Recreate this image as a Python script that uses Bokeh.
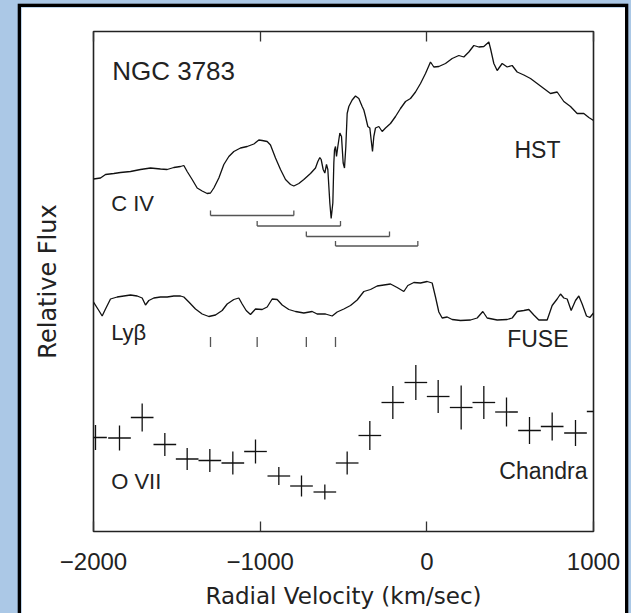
from bokeh.plotting import figure
from bokeh.layouts import column
from bokeh.models import (FixedTicker, LinearAxis, Range1d, Label, CustomJSTickFormatter)
from bokeh.embed import file_html
from bokeh.resources import INLINE

# ---------------- data ----------------
hst_v = [-2000, -1958, -1928, -1878, -1838, -1778, -1718, -1658, -1598, -1558, -1518, -1478,
         -1458, -1438, -1408, -1378, -1348, -1318, -1298, -1278, -1248, -1218, -1188, -1158,
         -1118, -1078, -1038, -1008, -988, -958, -938, -908, -878, -848, -818, -798, -768,
         -738, -698, -668, -654, -642, -634, -622, -612, -602, -594, -582, -574, -564, -558,
         -554, -548, -542, -534, -522, -512, -502, -494, -486, -478, -468, -448, -428, -408,
         -388, -378, -368, -354, -342, -334, -326, -318, -308, -288, -268, -248, -218, -188,
         -158, -128, -98, -68, -38, -8, 22, 42, 72, 112, 152, 192, 222, 252, 282, 312, 342,
         372, 382, 402, 422, 452, 482, 512, 542, 582, 622, 662, 702, 742, 782, 822, 862, 902,
         942, 972, 1000]
hst_f = [7.05, 7.07, 7.14, 7.16, 7.18, 7.20, 7.24, 7.27, 7.25, 7.24, 7.28, 7.30, 7.32, 7.20,
         7.04, 6.87, 6.81, 6.76, 6.77, 6.87, 7.07, 7.34, 7.50, 7.60, 7.67, 7.70, 7.75, 7.83,
         7.82, 7.80, 7.73, 7.47, 7.24, 7.04, 6.94, 6.91, 6.96, 7.04, 7.16, 7.27, 7.40, 7.48,
         7.44, 7.24, 7.17, 7.34, 7.24, 6.57, 6.26, 6.57, 7.37, 7.63, 7.70, 7.50, 7.70, 7.97,
         7.90, 7.37, 7.27, 7.70, 8.36, 8.50, 8.63, 8.71, 8.66, 8.50, 8.43, 8.30, 8.10, 8.07,
         7.83, 7.60, 7.90, 8.07, 8.10, 8.00, 8.07, 8.16, 8.30, 8.46, 8.60, 8.66, 8.79, 8.96,
         9.16, 9.39, 9.29, 9.30, 9.36, 9.46, 9.52, 9.49, 9.59, 9.72, 9.69, 9.70, 9.79, 9.66,
         9.36, 9.22, 9.36, 9.29, 9.32, 9.19, 9.13, 9.06, 8.96, 8.86, 8.76, 8.79, 8.60, 8.50,
         8.36, 8.36, 8.28, 8.22]

fuse_v = [-2000, -1968, -1948, -1928, -1898, -1858, -1818, -1778, -1738, -1708, -1688, -1668,
          -1638, -1598, -1558, -1518, -1478, -1458, -1428, -1388, -1348, -1308, -1268, -1228,
          -1198, -1158, -1128, -1108, -1084, -1058, -1028, -988, -958, -928, -898, -868, -828,
          -788, -738, -688, -658, -608, -568, -538, -498, -458, -418, -378, -338, -298, -258,
          -218, -178, -138, -114, -78, -38, 2, 32, 52, 72, 92, 122, 152, 202, 262, 302, 336,
          362, 422, 482, 512, 542, 582, 612, 642, 672, 722, 752, 782, 802, 822, 842, 866, 892,
          912, 932, 958, 978, 1000]
fuse_f = [4.59, 4.42, 4.31, 4.45, 4.65, 4.69, 4.71, 4.73, 4.71, 4.67, 4.53, 4.62, 4.67, 4.69,
          4.69, 4.71, 4.71, 4.69, 4.59, 4.45, 4.35, 4.30, 4.33, 4.42, 4.55, 4.64, 4.67, 4.55,
          4.42, 4.34, 4.45, 4.44, 4.49, 4.65, 4.64, 4.53, 4.44, 4.40, 4.37, 4.40, 4.35, 4.35,
          4.31, 4.39, 4.45, 4.52, 4.63, 4.80, 4.84, 4.91, 4.93, 4.95, 4.88, 4.80, 4.92, 4.98,
          4.97, 5.00, 4.97, 4.69, 4.39, 4.27, 4.29, 4.24, 4.22, 4.23, 4.27, 4.40, 4.27, 4.23,
          4.24, 4.27, 4.40, 4.42, 4.44, 4.33, 4.23, 4.23, 4.52, 4.65, 4.75, 4.67, 4.65, 4.42,
          4.62, 4.71, 4.55, 4.31, 4.28, 4.37]

chandra_v = [-1988, -1844, -1708, -1572, -1438, -1302, -1164, -1028, -888, -752, -612, -478,
             -342, -204, -66, 68, 206, 342, 478, 616, 752, 892, 1028]
chandra_f = [1.88, 1.87, 2.28, 1.74, 1.45, 1.42, 1.37, 1.60, 1.11, 0.91, 0.79, 1.37, 1.92,
             2.58, 2.98, 2.70, 2.48, 2.58, 2.39, 2.02, 2.10, 1.97, 2.40]
chandra_err = [0.25, 0.25, 0.28, 0.23, 0.22, 0.23, 0.23, 0.24, 0.18, 0.21, 0.15, 0.23, 0.29,
               0.33, 0.35, 0.33, 0.44, 0.33, 0.29, 0.27, 0.28, 0.26, 0.28]
chandra_halfbin = 68

# C IV doublet components (blue / red member) and marker levels
civ_blue = [-1298, -1018, -723, -548]
civ_red = [-798, -518, -224, -54]
civ_level = [6.32, 6.11, 5.90, 5.71]
civ_tick = 0.10
# Ly beta component markers
lyb_v = [-1298, -1018, -723, -548]
lyb_lo, lyb_hi = 3.69, 3.89

x_ticks = [-2000, -1000, 0, 1000]

BLUE = "#abc8e6"
INK = "#111111"
TXT = "#222222"

p = figure(width=604, height=616, x_range=Range1d(-2000, 1000), y_range=Range1d(0, 10),
           output_backend="svg", toolbar_location=None,
           min_border_left=72, min_border_right=32, min_border_top=24, min_border_bottom=89)
p.margin = (7, 0, 0, 21)
p.styles = {"box-shadow": "0 0 0 3.3px #000000"}
p.border_fill_color = "white"
p.background_fill_color = "white"
p.outline_line_color = "#222222"
p.outline_line_width = 1.6
p.grid.visible = False

fmt = CustomJSTickFormatter(code="return tick < 0 ? '\\u2212' + Math.abs(tick) : String(tick);")

xa = p.xaxis[0]
xa.ticker = FixedTicker(ticks=x_ticks)
xa.formatter = fmt
xa.minor_tick_line_color = None
xa.major_tick_in = 10
xa.major_tick_out = 0
xa.major_tick_line_color = "#333333"
xa.major_tick_line_width = 1.3
xa.axis_line_color = None
xa.major_label_text_font = "Liberation Sans"
xa.major_label_text_font_size = "24px"
xa.major_label_text_color = TXT
xa.major_label_standoff = 21
xa.axis_label = "Radial Velocity (km/sec)"
xa.axis_label_text_font = "DejaVu Sans"
xa.axis_label_text_font_size = "23px"
xa.axis_label_text_font_style = "normal"
xa.axis_label_text_color = TXT
xa.axis_label_standoff = 10

top = LinearAxis(ticker=FixedTicker(ticks=x_ticks),
                 formatter=CustomJSTickFormatter(code="return '';"),
                 major_label_text_font_size="10px",
                 major_tick_in=10, major_tick_out=0, axis_line_color=None,
                 minor_tick_line_color=None, major_tick_line_color="#333333",
                 major_tick_line_width=1.3, major_label_standoff=0)
p.add_layout(top, "above")

ya = p.yaxis[0]
ya.ticker = FixedTicker(ticks=[])
ya.major_tick_in = 0
ya.major_tick_out = 0
ya.minor_tick_line_color = None
ya.axis_line_color = None
ya.axis_label = "Relative Flux"
ya.axis_label_text_font = "DejaVu Sans"
ya.axis_label_text_font_size = "24px"
ya.axis_label_text_font_style = "normal"
ya.axis_label_text_color = TXT
ya.axis_label_standoff = 32

# spectra
p.line(hst_v, hst_f, line_color=INK, line_width=1.3)
p.line(fuse_v, fuse_f, line_color=INK, line_width=1.3)

# Chandra O VII bins with error bars
p.segment(x0=[v - chandra_halfbin for v in chandra_v], y0=chandra_f,
          x1=[v + chandra_halfbin for v in chandra_v], y1=chandra_f,
          line_color=INK, line_width=1.3)
p.segment(x0=chandra_v, y0=[f - e for f, e in zip(chandra_f, chandra_err)],
          x1=chandra_v, y1=[f + e for f, e in zip(chandra_f, chandra_err)],
          line_color=INK, line_width=1.3)

# C IV doublet brackets
GREY = "#555555"
p.segment(x0=civ_blue, y0=civ_level, x1=civ_red, y1=civ_level, line_color=GREY, line_width=1.3)
p.segment(x0=civ_blue, y0=civ_level, x1=civ_blue, y1=[l + civ_tick for l in civ_level],
          line_color=GREY, line_width=1.3)
p.segment(x0=civ_red, y0=civ_level, x1=civ_red, y1=[l + civ_tick for l in civ_level],
          line_color=GREY, line_width=1.3)
# Ly beta markers
p.segment(x0=lyb_v, y0=[lyb_lo] * len(lyb_v), x1=lyb_v, y1=[lyb_hi] * len(lyb_v),
          line_color=GREY, line_width=1.3)

def lab(x, y, text, size, align="left", font="Liberation Sans"):
    p.add_layout(Label(x=x, y=y, text=text, text_font=font, text_font_size=size,
                       text_color=TXT, text_align=align, text_baseline="alphabetic"))

lab(-1888, 9.22, "NGC 3783", "26px")
lab(-1894, 6.56, "C IV", "22px")
lab(-1894, 3.99, "Lyβ", "22px")
lab(-1894, 1.01, "O VII", "22px")
lab(802, 7.63, "HST", "23px", align="right")
lab(850, 3.85, "FUSE", "23px", align="right")
lab(964, 1.21, "Chandra", "23px", align="right")

root = column(p, width=631, height=613,
              styles={"background-color": BLUE, "overflow": "hidden"})

open("out.html", "w").write(file_html(root, INLINE))
